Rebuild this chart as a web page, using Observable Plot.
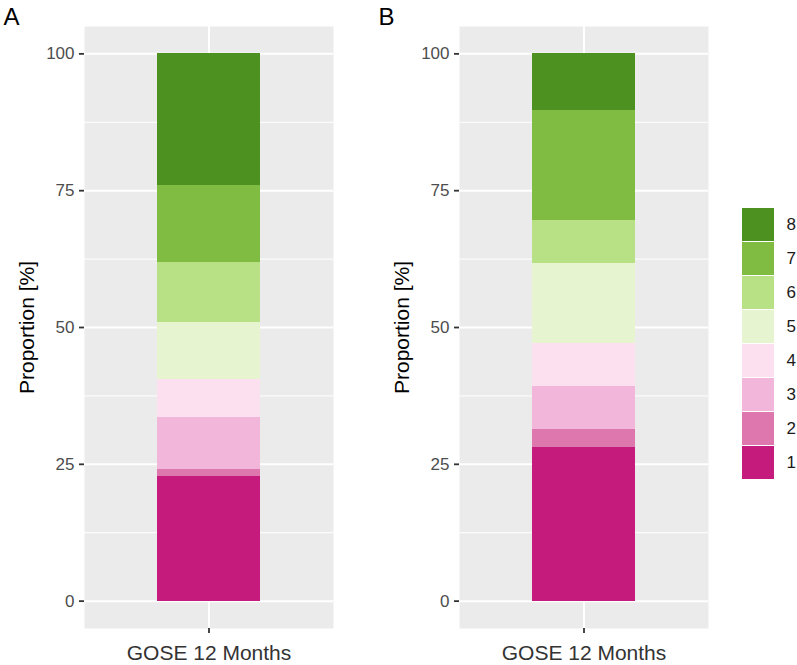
<!DOCTYPE html>
<html>
<head>
<meta charset="utf-8">
<script src="https://cdn.jsdelivr.net/npm/d3@7"></script>
<script src="https://cdn.jsdelivr.net/npm/@observablehq/plot@0.6"></script>
<style>
  html, body { margin: 0; padding: 0; background: white; }
  #wrap { position: relative; width: 797px; height: 665px; overflow: hidden; background: white; }
  #wrap > svg, #wrap > figure { position: absolute; margin: 0; }
</style>
</head>
<body>
<div id="wrap"></div>
<script>
const FONT = "Liberation Sans, Arial, Helvetica, sans-serif";
const grades = ["1", "2", "3", "4", "5", "6", "7", "8"];
const gradeColors = ["#c51b7d", "#de77ae", "#f1b6da", "#fde0ef", "#e6f5d0", "#b8e186", "#7fbc41", "#4d9221"];
const xCategory = "GOSE 12 Months";
const panelLabels = ["A", "B"];
const valuesA = [22.8, 1.2, 9.6, 6.9, 10.5, 10.8, 14.1, 24.1];
const valuesB = [28.1, 3.3, 7.9, 7.8, 14.6, 7.8, 20.2, 10.3];
const yTicks = [0, 25, 50, 75, 100];
const yMinor = [12.5, 37.5, 62.5, 87.5];

const wrap = document.getElementById("wrap");

function panel(values, letter) {
  const data = grades.map((g, i) => ({grade: g, value: values[i], cat: xCategory}));
  return Plot.plot({
    width: 370,
    height: 665,
    marginLeft: 84,
    marginRight: 37,
    marginTop: 26,
    marginBottom: 37,
    style: {fontFamily: FONT, background: "white", overflow: "visible"},
    x: {domain: [xCategory], padding: 0.4134, axis: null},
    y: {domain: [-5, 105], axis: null},
    color: {domain: grades, range: gradeColors},
    marks: [
      Plot.frame({fill: "#ebebeb", stroke: "none"}),
      Plot.ruleY(yMinor, {stroke: "white", strokeWidth: 1}),
      Plot.ruleY(yTicks, {stroke: "white", strokeWidth: 2}),
      Plot.ruleX([xCategory], {stroke: "white", strokeWidth: 2}),
      Plot.barY(data, {x: "cat", y: "value", fill: "grade", shapeRendering: "crispEdges"}),
      Plot.axisY({ticks: yTicks, tickSize: 5, tickPadding: 5, fontSize: 17, stroke: "#333333", fill: "#4d4d4d", strokeWidth: 1.8, label: null}),
      Plot.axisX({tickSize: 5, tickFormat: () => "", stroke: "#333333", strokeWidth: 1.8, label: null}),
      Plot.text([xCategory], {text: d => d, frameAnchor: "bottom", textAnchor: "middle", dy: 31, fontSize: 21, fill: "#333333"}),
      Plot.text(["Proportion [%]"], {text: d => d, frameAnchor: "left", textAnchor: "middle", lineAnchor: "middle", rotate: -90, dx: -57, fontSize: 21, fill: "black"}),
      Plot.text([letter], {text: d => d, frameAnchor: "top-left", textAnchor: "start", lineAnchor: "top", dx: -81, dy: -19, fontSize: 24, fill: "black"})
    ]
  });
}

const pA = panel(valuesA, panelLabels[0]);
pA.style.left = "0px"; pA.style.top = "0px";
wrap.appendChild(pA);

const pB = panel(valuesB, panelLabels[1]);
pB.style.left = "375px"; pB.style.top = "0px";
wrap.appendChild(pB);

const legendGrades = grades.slice().reverse();
const leg = Plot.plot({
  width: 57,
  height: 283,
  marginLeft: 2,
  marginRight: 23,
  marginTop: 2,
  marginBottom: 2,
  style: {fontFamily: FONT, background: "white", overflow: "visible"},
  x: {domain: ["k"], axis: null, padding: 0},
  y: {domain: legendGrades, axis: null, padding: 0.04},
  color: {domain: grades, range: gradeColors},
  marks: [
    Plot.cell(legendGrades, {x: () => "k", y: d => d, fill: d => d}),
    Plot.text(legendGrades, {y: d => d, text: d => d, frameAnchor: "right", textAnchor: "start", dx: 12, fontSize: 17, fill: "#1a1a1a"})
  ]
});
leg.style.left = "740px"; leg.style.top = "202px";
wrap.appendChild(leg);
</script>
</body>
</html>
